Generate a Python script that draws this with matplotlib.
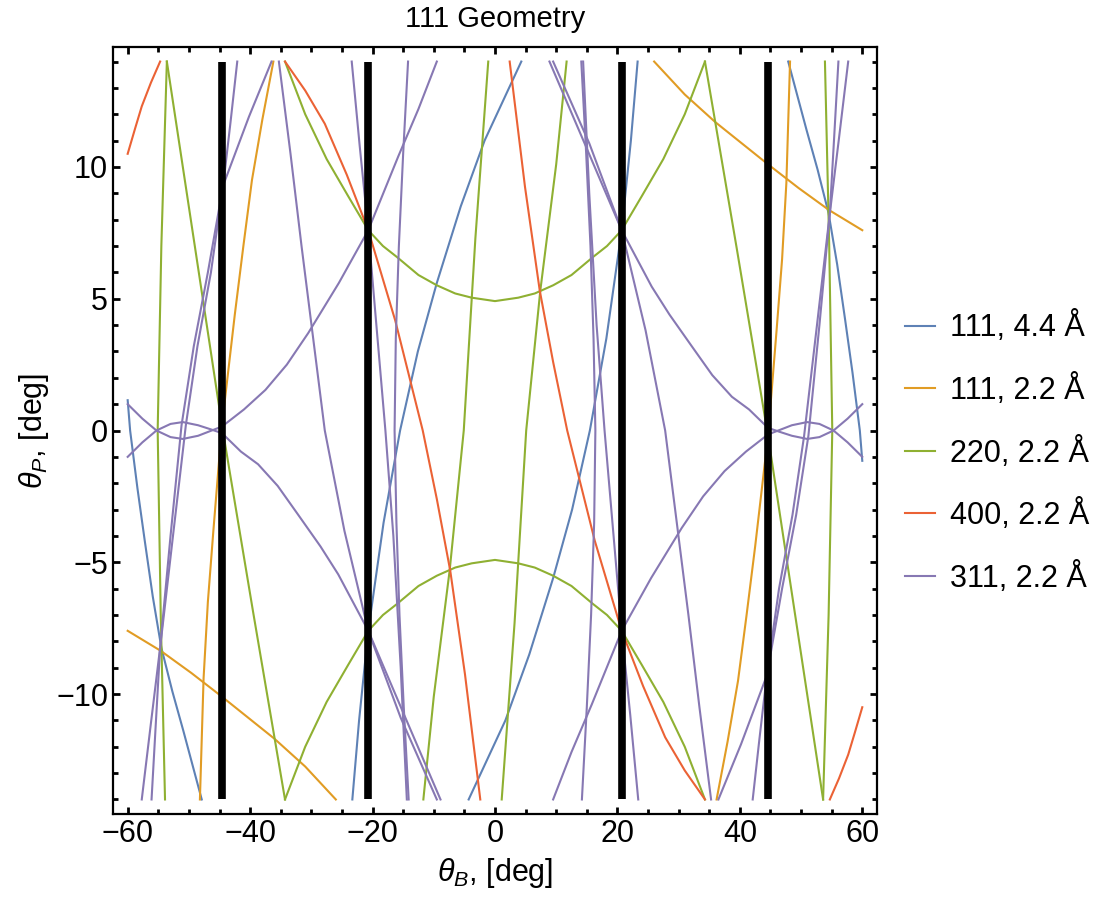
import matplotlib.pyplot as plt
from matplotlib.ticker import MultipleLocator

plt.rcParams['font.family'] = ['Liberation Sans', 'DejaVu Sans']
plt.rcParams['mathtext.fontset'] = 'custom'
plt.rcParams['mathtext.rm'] = 'Liberation Sans'
plt.rcParams['mathtext.it'] = 'Liberation Sans:italic'

# legend text and colours, one per reflection
series_labels = ['111, 4.4 Å', '111, 2.2 Å', '220, 2.2 Å', '400, 2.2 Å', '311, 2.2 Å']
series_colors = ['#5e81b5', '#e19c24', '#8fb032', '#eb6235', '#8778b3']

# curves, each as [theta_B, theta_P] points
blue_curves = [
    [[-60, 1.15], [-59.6, 0], [-58.4, -2.2], [-57.2, -4.2], [-55.9, -6.3], [-54.5, -8.24],
     [-52.7, -9.9], [-50.9, -11.4], [-49.4, -12.7], [-47.9, -14]],
    [[60, -1.15], [59.6, 0], [58.4, 2.2], [57.2, 4.2], [55.9, 6.3], [54.5, 8.24],
     [52.7, 9.9], [50.9, 11.4], [49.4, 12.7], [47.9, 14]],
    [[-4.3, -14], [-1.3, -12.5], [1.7, -11], [5.6, -8.5], [9.5, -5.6], [12.6, -3.0],
     [15.5, 0], [18.2, 3.5], [20.7, 7.6], [22.2, 11], [23.3, 14]],
    [[4.3, 14], [1.3, 12.5], [-1.7, 11], [-5.6, 8.5], [-9.5, 5.6], [-12.6, 3.0],
     [-15.5, 0], [-18.2, -3.5], [-20.7, -7.6], [-22.2, -11], [-23.3, -14]],
]

orange_curves = [
    [[26, 14], [31, 12.75], [36, 11.7], [40.3, 10.9], [44.6, 10.1], [49.6, 9.2],
     [54.6, 8.36], [60, 7.6]],
    [[-26, -14], [-31, -12.75], [-36, -11.7], [-40.3, -10.9], [-44.6, -10.1], [-49.6, -9.2],
     [-54.6, -8.36], [-60, -7.6]],
    [[-48.2, -14], [-47.6, -9.4], [-46.9, -6.5], [-46.0, -3.8], [-44.6, 0.2], [-42.5, 4.4],
     [-41.1, 7.0], [-39.7, 9.5], [-38.0, 11.8], [-36.2, 14]],
    [[48.2, 14], [47.6, 9.4], [46.9, 6.5], [46.0, 3.8], [44.6, -0.2], [42.5, -4.4],
     [41.1, -7.0], [39.7, -9.5], [38.0, -11.8], [36.2, -14]],
]

green_curves = [
    [[-34.3, 14], [-31, 12.0], [-27.5, 10.3], [-24, 8.9], [-20.7, 7.6], [-18.3, 7.0],
     [-16, 6.58], [-12.5, 5.9], [-9.5, 5.51], [-6.5, 5.2], [-3.8, 5.04], [0, 4.91],
     [3.8, 5.04], [6.5, 5.2], [9.5, 5.51], [12.5, 5.9], [16, 6.58], [18.3, 7.0],
     [20.7, 7.6], [24, 8.9], [27.5, 10.3], [31, 12.0], [34.3, 14]],
    [[-34.3, -14], [-31, -12.0], [-27.5, -10.3], [-24, -8.9], [-20.7, -7.6], [-18.3, -7.0],
     [-16, -6.58], [-12.5, -5.9], [-9.5, -5.51], [-6.5, -5.2], [-3.8, -5.04], [0, -4.91],
     [3.8, -5.04], [6.5, -5.2], [9.5, -5.51], [12.5, -5.9], [16, -6.58], [18.3, -7.0],
     [20.7, -7.6], [24, -8.9], [27.5, -10.3], [31, -12.0], [34.3, -14]],
    [[-53.6, 14], [-54.5, 7], [-55.1, 0], [-54.6, -7], [-53.9, -14]],
    [[53.6, -14], [54.5, -7], [55.1, 0], [54.6, 7], [53.9, 14]],
    [[-53.6, 14], [-49.1, 7.1], [-44.6, 0.2], [-39.5, -6.9], [-34.3, -14]],
    [[53.6, -14], [49.1, -7.1], [44.6, -0.2], [39.5, 6.9], [34.3, 14]],
    [[-1.1, 14], [-3.2, 7.3], [-5.1, 0], [-7.4, -5.3], [-10, -10.1], [-11.7, -14]],
    [[1.1, -14], [3.2, -7.3], [5.1, 0], [7.4, 5.3], [10, 10.1], [11.7, 14]],
]

red_curves = [
    [[-60, 10.5], [-58.8, 11.45], [-57.7, 12.3], [-56.2, 13.2], [-54.7, 14]],
    [[60, -10.5], [58.8, -11.45], [57.7, -12.3], [56.2, -13.2], [54.7, -14]],
    [[-34.3, 14], [-31, 12.9], [-27.8, 11.64], [-24.2, 9.7], [-20.7, 7.6], [-16.3, 4.18],
     [-11.8, 0], [-9.5, -2.6], [-7.3, -5.33], [-4.9, -9.25], [-2.4, -14]],
    [[34.3, -14], [31, -12.9], [27.8, -11.64], [24.2, -9.7], [20.7, -7.6], [16.3, -4.18],
     [11.8, 0], [9.5, 2.6], [7.3, 5.33], [4.9, 9.25], [2.4, 14]],
]

purple_curves = [
    [[-60, 1.0], [-57.6, 0.45], [-55.3, 0], [-53, -0.25], [-51, -0.32], [-48.5, -0.2],
     [-46.5, -0.02], [-44.6, 0.15], [-41, 0.8], [-37.5, 1.54], [-34, 2.5], [-30.5, 3.7],
     [-25.5, 5.6], [-20.7, 7.6], [-15.8, 10.4], [-12.5, 12.2], [-9.5, 14]],
    [[60, -1.0], [57.6, -0.45], [55.3, 0], [53, 0.25], [51, 0.32], [48.5, 0.2],
     [46.5, 0.02], [44.6, -0.15], [41, -0.8], [37.5, -1.54], [34, -2.5], [30.5, -3.7],
     [25.5, -5.6], [20.7, -7.6], [15.8, -10.4], [12.5, -12.2], [9.5, -14]],
    [[-60, -1.0], [-57.6, -0.45], [-55.3, 0], [-53, 0.25], [-51, 0.32], [-48.5, 0.2],
     [-46.5, 0.05], [-44.6, -0.1], [-41.5, -0.8], [-38.7, -1.28], [-35.5, -2.1],
     [-32.2, -3.18], [-28.5, -4.4], [-25.6, -5.46], [-20.7, -7.6], [-15, -10.7], [-8.9, -14]],
    [[60, 1.0], [57.6, 0.45], [55.3, 0], [53, -0.25], [51, -0.32], [48.5, -0.2],
     [46.5, -0.05], [44.6, 0.1], [41.5, 0.8], [38.7, 1.28], [35.5, 2.1],
     [32.2, 3.18], [28.5, 4.4], [25.6, 5.46], [20.7, 7.6], [15, 10.7], [8.9, 14]],
    [[-35.3, 14], [-33.4, 10.5], [-31.6, 7], [-29.7, 3.5], [-27.8, 0], [-24.6, -3.8],
     [-20.7, -7.6], [-15.4, -10.9], [-9.5, -14]],
    [[35.3, -14], [33.4, -10.5], [31.6, -7], [29.7, -3.5], [27.8, 0], [24.6, 3.8],
     [20.7, 7.6], [15.4, 10.9], [9.5, 14]],
    [[-42.1, 14], [-43.2, 11.7], [-44.4, 9.3], [-46.9, 6.0], [-49.2, 3.2], [-51.2, 0.2],
     [-53.0, -4], [-54.7, -8.24], [-56.2, -11.1], [-57.7, -14]],
    [[42.1, -14], [43.2, -11.7], [44.4, -9.3], [46.9, -6.0], [49.2, -3.2], [51.2, -0.2],
     [53.0, 4], [54.7, 8.24], [56.2, 11.1], [57.7, 14]],
    [[-36.5, 14], [-40.2, 11.9], [-44.4, 9.3], [-46.4, 6.0], [-48.6, 3.2], [-50.5, 0.2],
     [-52.6, -4], [-54.7, -8.24], [-55.4, -11.1], [-56.1, -14]],
    [[36.5, -14], [40.2, -11.9], [44.4, -9.3], [46.4, -6.0], [48.6, -3.2], [50.5, -0.2],
     [52.6, 4], [54.7, 8.24], [55.4, 11.1], [56.1, 14]],
    [[-23.4, 14], [-22.1, 10.8], [-20.7, 7.6], [-19.3, 3.8], [-17.9, 0], [-16.6, -4],
     [-15.4, -9], [-14.4, -14]],
    [[23.4, -14], [22.1, -10.8], [20.7, -7.6], [19.3, -3.8], [17.9, 0], [16.6, 4],
     [15.4, 9], [14.4, 14]],
    [[-14.2, 14], [-15.0, 10.5], [-15.7, 7], [-16.2, 3.5], [-16.4, 0], [-16.1, -3.5],
     [-15.6, -7], [-14.9, -10.5], [-14.1, -14]],
    [[14.2, -14], [15.0, -10.5], [15.7, -7], [16.2, -3.5], [16.4, 0], [16.1, 3.5],
     [15.6, 7], [14.9, 10.5], [14.1, 14]],
]

# thick black markers
black_lines_x = [-44.6, -20.7, 20.7, 44.6]
black_y_span = [-14, 14]

all_series = [blue_curves, orange_curves, green_curves, red_curves, purple_curves]

fig = plt.figure(figsize=(10.98, 9.05), dpi=100)
ax = fig.add_axes([0.1029, 0.1003, 0.6958, 0.848])

for curves, color, label in zip(all_series, series_colors, series_labels):
    for i, pts in enumerate(curves):
        xs = [p[0] for p in pts]
        ys = [p[1] for p in pts]
        ax.plot(xs, ys, color=color, lw=1.5, label=label if i == 0 else None)

for x in black_lines_x:
    ax.plot([x, x], black_y_span, color='black', lw=5.5, solid_capstyle='butt', zorder=5)

ax.set_xlim(-62.4, 62.4)
ax.set_ylim(-14.56, 14.56)

ax.xaxis.set_major_locator(MultipleLocator(20))
ax.xaxis.set_minor_locator(MultipleLocator(5))
ax.yaxis.set_major_locator(MultipleLocator(5))
ax.yaxis.set_minor_locator(MultipleLocator(1))
ax.tick_params(which='both', direction='in', top=True, right=True, width=2.0, labelsize=22)
ax.tick_params(which='major', length=5)
ax.tick_params(which='minor', length=3.6)
for s in ax.spines.values():
    s.set_linewidth(1.6)

ax.set_title('111 Geometry', fontsize=21, pad=14)
ax.set_xlabel(r'$\theta_B$, [deg]', fontsize=22, labelpad=5)
ax.set_ylabel(r'$\theta_P$, [deg]', fontsize=22, labelpad=4)

ax.legend(loc='center left', bbox_to_anchor=(1.0366, 0.4713), frameon=False, fontsize=22,
          handlelength=0.98, handletextpad=0.49, labelspacing=1.0, borderpad=0, borderaxespad=0)

fig.savefig('out.png', dpi=100)
